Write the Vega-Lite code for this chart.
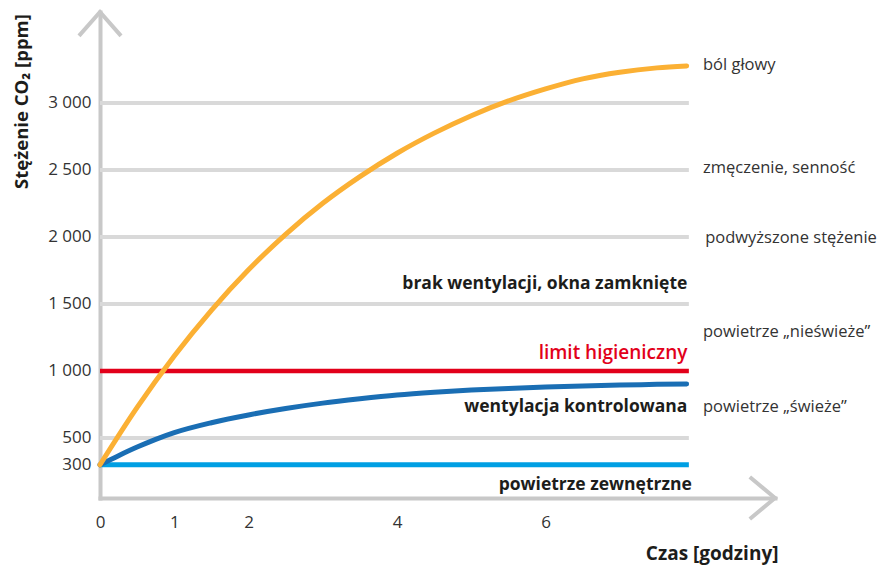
{
  "$schema": "https://vega.github.io/schema/vega-lite/v6.json",
  "autosize": {"type": "none"},
  "padding": {"left": 100, "top": 12, "right": 102, "bottom": 68},
  "width": 675,
  "height": 486,
  "background": "white",
  "config": {"view": {"stroke": null}, "font": "Open Sans"},
  "datasets": {
    "curves": [
      {"series": "brak", "h": 0, "ppm": 300},
      {"series": "brak", "h": 0.5, "ppm": 728},
      {"series": "brak", "h": 1.0, "ppm": 1112},
      {"series": "brak", "h": 1.5, "ppm": 1453},
      {"series": "brak", "h": 2.0, "ppm": 1755},
      {"series": "brak", "h": 2.5, "ppm": 2020},
      {"series": "brak", "h": 3.0, "ppm": 2251},
      {"series": "brak", "h": 3.5, "ppm": 2450},
      {"series": "brak", "h": 4.0, "ppm": 2625},
      {"series": "brak", "h": 4.5, "ppm": 2775},
      {"series": "brak", "h": 5.0, "ppm": 2905},
      {"series": "brak", "h": 5.5, "ppm": 3015},
      {"series": "brak", "h": 6.0, "ppm": 3105},
      {"series": "brak", "h": 6.5, "ppm": 3180},
      {"series": "brak", "h": 7.0, "ppm": 3230},
      {"series": "brak", "h": 7.5, "ppm": 3262},
      {"series": "brak", "h": 7.9, "ppm": 3276},
      {"series": "kontrol", "h": 0, "ppm": 300},
      {"series": "kontrol", "h": 0.25, "ppm": 368},
      {"series": "kontrol", "h": 0.5, "ppm": 432},
      {"series": "kontrol", "h": 0.75, "ppm": 490},
      {"series": "kontrol", "h": 1.0, "ppm": 540},
      {"series": "kontrol", "h": 1.5, "ppm": 614},
      {"series": "kontrol", "h": 2.0, "ppm": 672},
      {"series": "kontrol", "h": 2.5, "ppm": 720},
      {"series": "kontrol", "h": 3.0, "ppm": 760},
      {"series": "kontrol", "h": 3.5, "ppm": 792},
      {"series": "kontrol", "h": 4.0, "ppm": 820},
      {"series": "kontrol", "h": 4.5, "ppm": 841},
      {"series": "kontrol", "h": 5.0, "ppm": 858},
      {"series": "kontrol", "h": 5.5, "ppm": 870},
      {"series": "kontrol", "h": 6.0, "ppm": 880},
      {"series": "kontrol", "h": 6.5, "ppm": 888},
      {"series": "kontrol", "h": 7.0, "ppm": 895},
      {"series": "kontrol", "h": 7.5, "ppm": 900},
      {"series": "kontrol", "h": 7.9, "ppm": 903}
    ],
    "levels": [
      {"kind": "grid", "ppm": 500, "h0": 0, "h1": 7.93},
      {"kind": "grid", "ppm": 1500, "h0": 0, "h1": 7.93},
      {"kind": "grid", "ppm": 2000, "h0": 0, "h1": 7.93},
      {"kind": "grid", "ppm": 2500, "h0": 0, "h1": 7.93},
      {"kind": "grid", "ppm": 3000, "h0": 0, "h1": 7.93},
      {"kind": "limit", "ppm": 1000, "h0": 0, "h1": 7.93},
      {"kind": "outdoor", "ppm": 300, "h0": 0, "h1": 7.93}
    ],
    "labels": [
      {"kind": "bold", "h": 7.91, "ppm": 1649, "text": "brak wentylacji, okna zamknięte"},
      {"kind": "bold", "h": 7.91, "ppm": 731, "text": "wentylacja kontrolowana"},
      {"kind": "bold", "h": 7.97, "ppm": 149, "text": "powietrze zewnętrzne"},
      {"kind": "red", "h": 7.91, "ppm": 1134, "text": "limit higieniczny"},
      {"kind": "note", "h": 8.12, "ppm": 3284, "text": "ból głowy"},
      {"kind": "note", "h": 8.12, "ppm": 2515, "text": "zmęczenie, senność"},
      {"kind": "note", "h": 8.15, "ppm": 1993, "text": "podwyższone stężenie"},
      {"kind": "note", "h": 8.12, "ppm": 1291, "text": "powietrze „nieświeże”"},
      {"kind": "note", "h": 8.12, "ppm": 731, "text": "powietrze „świeże”"}
    ],
    "arrows": [
      {"axis": "y", "h": 0, "ppm": 3679},
      {"axis": "x", "h": 9.09, "ppm": 52}
    ]
  },
  "encoding": {
    "x": {
      "field": "h", "type": "quantitative",
      "scale": {"domain": [0, 9.09], "nice": false, "zero": false},
      "axis": {
        "values": [0, 1, 2, 4, 6],
        "title": "Czas [godziny]",
        "grid": false, "ticks": false, "tickSize": 0, "labelFlush": false,
        "domain": true, "domainColor": "#c8c8c8", "domainWidth": 4, "domainCap": "square",
        "labelFont": "Open Sans", "labelFontSize": 17, "labelColor": "#333333", "labelPadding": 16,
        "titleFont": "Open Sans", "titleFontSize": 19, "titleFontWeight": "bold", "titleColor": "#1d1d1b",
        "titleX": 678, "titleY": 55, "titleAlign": "right", "titleBaseline": "middle", "titleAnchor": null
      }
    },
    "y": {
      "field": "ppm", "type": "quantitative",
      "scale": {"domain": [52, 3679], "nice": false, "zero": false},
      "axis": {
        "values": [300, 500, 1000, 1500, 2000, 2500, 3000],
        "labelExpr": "replace(format(datum.value, ','), ',', ' ')",
        "title": "Stężenie CO₂ [ppm]",
        "grid": false, "ticks": false, "tickSize": 0, "labelFlush": false,
        "domain": true, "domainColor": "#c8c8c8", "domainWidth": 4, "domainCap": "square",
        "labelFont": "Open Sans", "labelFontSize": 17, "labelColor": "#333333", "labelPadding": 9,
        "titleFont": "Open Sans", "titleFontSize": 18.5, "titleFontWeight": "bold", "titleColor": "#1d1d1b",
        "titleX": -79, "titleY": 89, "titleAngle": 270, "titleAlign": "center", "titleBaseline": "middle", "titleAnchor": null
      }
    }
  },
  "layer": [
    {
      "data": {"name": "levels"},
      "transform": [{"filter": "datum.kind === 'grid'"}],
      "mark": {"type": "rule", "strokeCap": "butt", "color": "#d9d9d9", "strokeWidth": 4},
      "encoding": {
        "x": {"field": "h0", "type": "quantitative"},
        "x2": {"field": "h1"},
        "y": {"field": "ppm", "type": "quantitative"}
      }
    },
    {
      "data": {"name": "levels"},
      "transform": [{"filter": "datum.kind === 'limit'"}],
      "mark": {"type": "rule", "strokeCap": "butt", "color": "#e2001a", "strokeWidth": 4.5},
      "encoding": {
        "x": {"field": "h0", "type": "quantitative"},
        "x2": {"field": "h1"},
        "y": {"field": "ppm", "type": "quantitative"}
      }
    },
    {
      "data": {"name": "levels"},
      "transform": [{"filter": "datum.kind === 'outdoor'"}],
      "mark": {"type": "rule", "strokeCap": "butt", "color": "#009fe3", "strokeWidth": 5},
      "encoding": {
        "x": {"field": "h0", "type": "quantitative"},
        "x2": {"field": "h1"},
        "y": {"field": "ppm", "type": "quantitative"}
      }
    },
    {
      "data": {"name": "curves"},
      "transform": [{"filter": "datum.series === 'kontrol'"}],
      "mark": {"type": "line", "interpolate": "monotone", "strokeWidth": 5, "strokeCap": "round", "color": "#1a6eb4"},
      "encoding": {
        "x": {"field": "h", "type": "quantitative"},
        "y": {"field": "ppm", "type": "quantitative"},
        "order": {"field": "h", "type": "quantitative"}
      }
    },
    {
      "data": {"name": "curves"},
      "transform": [{"filter": "datum.series === 'brak'"}],
      "mark": {"type": "line", "interpolate": "monotone", "strokeWidth": 5, "strokeCap": "round", "color": "#fbb034"},
      "encoding": {
        "x": {"field": "h", "type": "quantitative"},
        "y": {"field": "ppm", "type": "quantitative"},
        "order": {"field": "h", "type": "quantitative"}
      }
    },
    {
      "data": {"name": "arrows"},
      "transform": [{"filter": "datum.axis === 'y'"}],
      "mark": {"type": "point", "shape": "M-1,1.14 L0,0 L1,1.14", "size": 1764, "filled": false, "stroke": "#c8c8c8", "strokeWidth": 4, "opacity": 1},
      "encoding": {
        "x": {"field": "h", "type": "quantitative"},
        "y": {"field": "ppm", "type": "quantitative"}
      }
    },
    {
      "data": {"name": "arrows"},
      "transform": [{"filter": "datum.axis === 'x'"}],
      "mark": {"type": "point", "shape": "M-1.2,-1 L0,0 L-1.2,1", "size": 1764, "filled": false, "stroke": "#c8c8c8", "strokeWidth": 4, "opacity": 1},
      "encoding": {
        "x": {"field": "h", "type": "quantitative"},
        "y": {"field": "ppm", "type": "quantitative"}
      }
    },
    {
      "data": {"name": "labels"},
      "transform": [{"filter": "datum.kind === 'bold'"}],
      "mark": {"type": "text", "align": "right", "baseline": "middle", "font": "Open Sans", "fontSize": 17.5, "fontWeight": "bold", "color": "#1d1d1b"},
      "encoding": {
        "x": {"field": "h", "type": "quantitative"},
        "y": {"field": "ppm", "type": "quantitative"},
        "text": {"field": "text"}
      }
    },
    {
      "data": {"name": "labels"},
      "transform": [{"filter": "datum.kind === 'red'"}],
      "mark": {"type": "text", "align": "right", "baseline": "middle", "font": "Open Sans", "fontSize": 19, "fontWeight": 600, "color": "#e2001a"},
      "encoding": {
        "x": {"field": "h", "type": "quantitative"},
        "y": {"field": "ppm", "type": "quantitative"},
        "text": {"field": "text"}
      }
    },
    {
      "data": {"name": "labels"},
      "transform": [{"filter": "datum.kind === 'note'"}],
      "mark": {"type": "text", "align": "left", "baseline": "middle", "font": "Open Sans", "fontSize": 16.5, "color": "#333333"},
      "encoding": {
        "x": {"field": "h", "type": "quantitative"},
        "y": {"field": "ppm", "type": "quantitative"},
        "text": {"field": "text"}
      }
    }
  ]
}
